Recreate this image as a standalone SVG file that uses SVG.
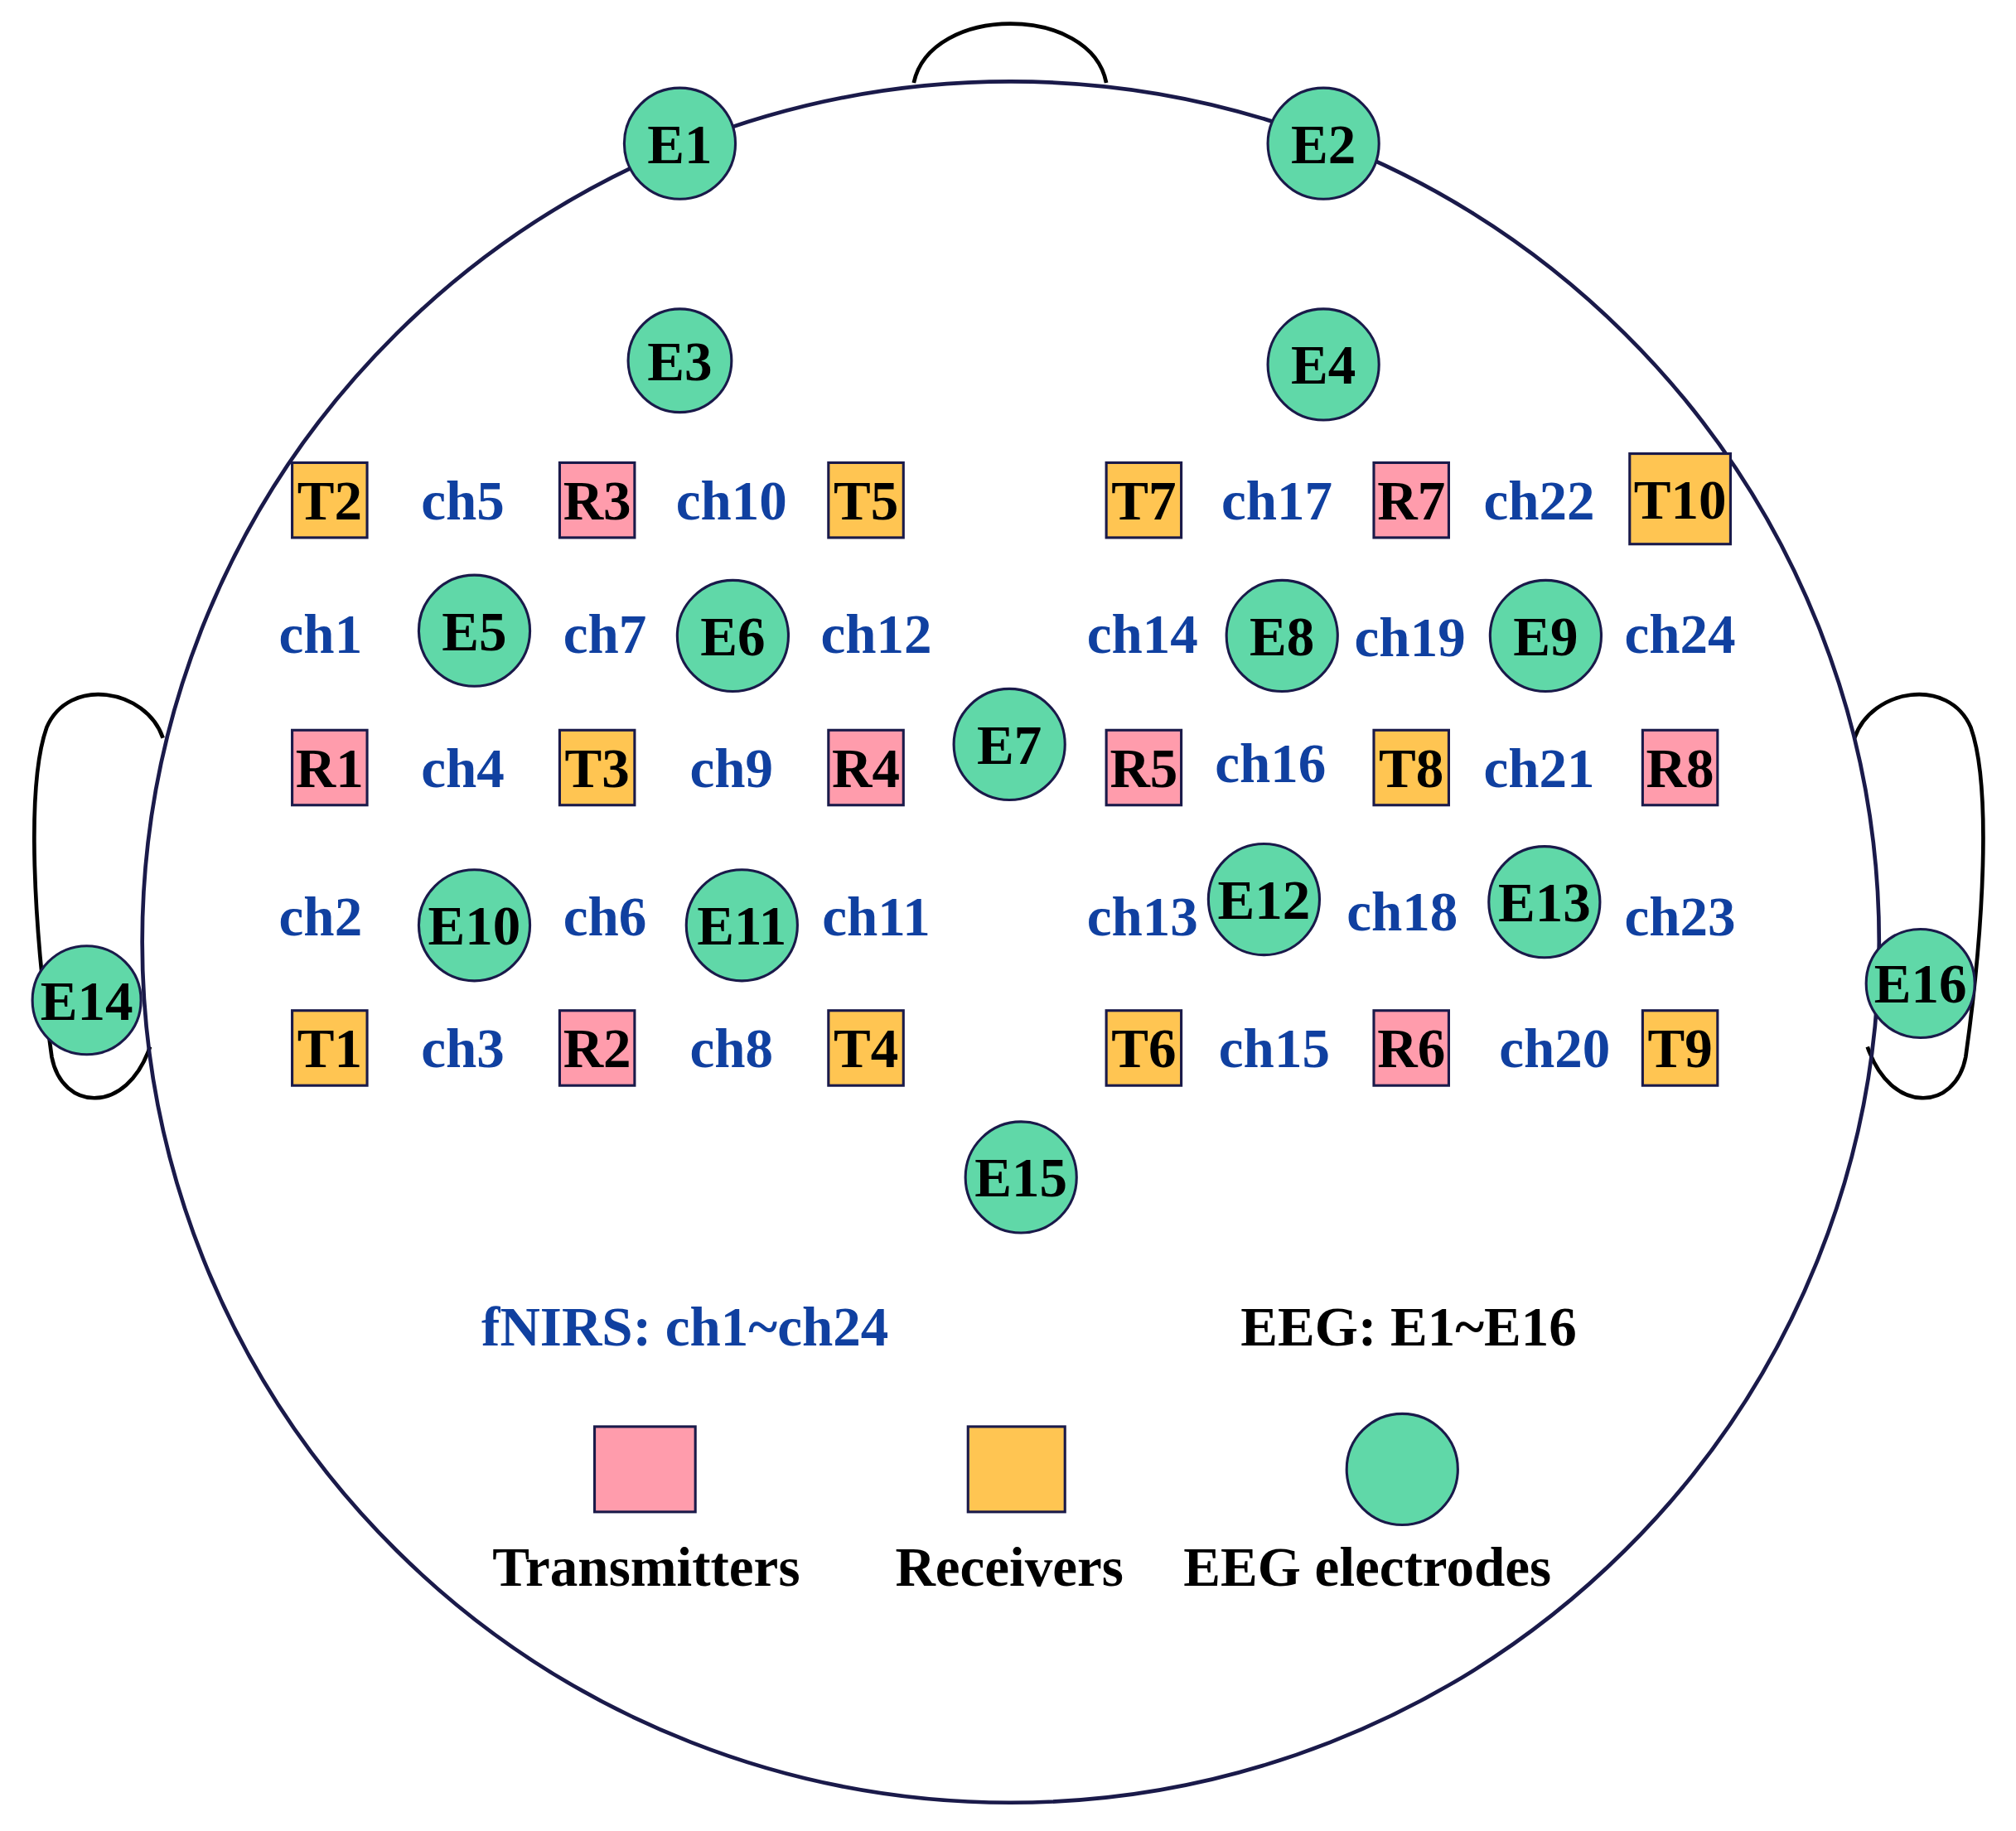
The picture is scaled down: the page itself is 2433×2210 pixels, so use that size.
<svg xmlns="http://www.w3.org/2000/svg" width="2433" height="2210" viewBox="0 0 2433 2210">
<style>
.l{fill:none;stroke:#000;stroke-width:3}
.e{fill:#60d8a8;stroke:#1a1a4a;stroke-width:2}
.t{fill:#ffc552;stroke:#1a1a4a;stroke-width:2}
.r{fill:#ff9cac;stroke:#1a1a4a;stroke-width:2}
text{font-family:"Liberation Serif",serif;font-weight:bold;font-size:43px;text-anchor:middle}
.c{fill:#1040a0}
</style>
<rect width="2433" height="2210" fill="#fff"/>
<g transform="translate(-3,-3) scale(1.5596)">
<g id="head">
<path class="l" d="M709,66 C722,5 846,5 858,66"/>
<path class="l" d="M128,573 C115,535 55,525 38,565 C22,610 28,720 42,820 C50,862 100,865 118,812"/>
<path class="l" d="M1437,573 C1450,535 1510,525 1527,565 C1543,610 1537,720 1523,820 C1515,862 1465,865 1447,812"/>
<ellipse cx="784" cy="731" rx="672" ry="666" fill="none" stroke="#1a1a4a" stroke-width="3"/>
</g>
<g id="electrodes">
<g id="E1"><circle class="e" cx="528" cy="113" r="43"/><text x="528" y="128">E1</text></g>
<g id="E2"><circle class="e" cx="1026" cy="113" r="43"/><text x="1026" y="128">E2</text></g>
<g id="E3"><circle class="e" cx="528" cy="281" r="40"/><text x="528" y="296">E3</text></g>
<g id="E4"><circle class="e" cx="1026" cy="284" r="43"/><text x="1026" y="299">E4</text></g>
<g id="E5"><circle class="e" cx="369" cy="490" r="43"/><text x="369" y="505">E5</text></g>
<g id="E6"><circle class="e" cx="569" cy="494" r="43"/><text x="569" y="509">E6</text></g>
<g id="E7"><circle class="e" cx="783" cy="578" r="43"/><text x="783" y="593">E7</text></g>
<g id="E8"><circle class="e" cx="994" cy="494" r="43"/><text x="994" y="509">E8</text></g>
<g id="E9"><circle class="e" cx="1198" cy="494" r="43"/><text x="1198" y="509">E9</text></g>
<g id="E10"><circle class="e" cx="369" cy="718" r="43"/><text x="369" y="733">E10</text></g>
<g id="E11"><circle class="e" cx="576" cy="718" r="43"/><text x="576" y="733">E11</text></g>
<g id="E12"><circle class="e" cx="980" cy="698" r="43"/><text x="980" y="713">E12</text></g>
<g id="E13"><circle class="e" cx="1197" cy="700" r="43"/><text x="1197" y="715">E13</text></g>
<g id="E14"><circle class="e" cx="69" cy="776" r="42"/><text x="69" y="791">E14</text></g>
<g id="E15"><circle class="e" cx="792" cy="913" r="43"/><text x="792" y="928">E15</text></g>
<g id="E16"><circle class="e" cx="1488" cy="763" r="42"/><text x="1488" y="778">E16</text></g>
</g>
<g id="optodes">
<g id="T2"><rect class="t" x="228" y="360" width="58" height="58"/><text x="257" y="404">T2</text></g>
<g id="R3"><rect class="r" x="435" y="360" width="58" height="58"/><text x="464" y="404">R3</text></g>
<g id="T5"><rect class="t" x="643" y="360" width="58" height="58"/><text x="672" y="404">T5</text></g>
<g id="T7"><rect class="t" x="858" y="360" width="58" height="58"/><text x="887" y="404">T7</text></g>
<g id="R7"><rect class="r" x="1065" y="360" width="58" height="58"/><text x="1094" y="404">R7</text></g>
<g id="T10"><rect class="t" x="1263" y="353" width="78" height="70"/><text x="1302" y="403">T10</text></g>
<g id="R1"><rect class="r" x="228" y="567" width="58" height="58"/><text x="257" y="611">R1</text></g>
<g id="T3"><rect class="t" x="435" y="567" width="58" height="58"/><text x="464" y="611">T3</text></g>
<g id="R4"><rect class="r" x="643" y="567" width="58" height="58"/><text x="672" y="611">R4</text></g>
<g id="R5"><rect class="r" x="858" y="567" width="58" height="58"/><text x="887" y="611">R5</text></g>
<g id="T8"><rect class="t" x="1065" y="567" width="58" height="58"/><text x="1094" y="611">T8</text></g>
<g id="R8"><rect class="r" x="1273" y="567" width="58" height="58"/><text x="1302" y="611">R8</text></g>
<g id="T1"><rect class="t" x="228" y="784" width="58" height="58"/><text x="257" y="828">T1</text></g>
<g id="R2"><rect class="r" x="435" y="784" width="58" height="58"/><text x="464" y="828">R2</text></g>
<g id="T4"><rect class="t" x="643" y="784" width="58" height="58"/><text x="672" y="828">T4</text></g>
<g id="T6"><rect class="t" x="858" y="784" width="58" height="58"/><text x="887" y="828">T6</text></g>
<g id="R6"><rect class="r" x="1065" y="784" width="58" height="58"/><text x="1094" y="828">R6</text></g>
<g id="T9"><rect class="t" x="1273" y="784" width="58" height="58"/><text x="1302" y="828">T9</text></g>
</g>
<g id="channels" class="c">
<text class="c" x="360" y="404">ch5</text><text class="c" x="568" y="404">ch10</text><text class="c" x="990" y="404">ch17</text><text class="c" x="1193" y="404">ch22</text>
<text class="c" x="250" y="507">ch1</text><text class="c" x="470" y="507">ch7</text><text class="c" x="680" y="507">ch12</text><text class="c" x="886" y="507">ch14</text><text class="c" x="1093" y="510">ch19</text><text class="c" x="1302" y="507">ch24</text>
<text class="c" x="360" y="611">ch4</text><text class="c" x="568" y="611">ch9</text><text class="c" x="985" y="607">ch16</text><text class="c" x="1193" y="611">ch21</text>
<text class="c" x="250" y="726">ch2</text><text class="c" x="470" y="726">ch6</text><text class="c" x="680" y="726">ch11</text><text class="c" x="886" y="726">ch13</text><text class="c" x="1087" y="722">ch18</text><text class="c" x="1302" y="726">ch23</text>
<text class="c" x="360" y="828">ch3</text><text class="c" x="568" y="828">ch8</text><text class="c" x="988" y="828">ch15</text><text class="c" x="1205" y="828">ch20</text>
</g>
<g id="legend">
<text class="c" x="532" y="1043">fNIRS: ch1~ch24</text>
<text x="1092" y="1043">EEG: E1~E16</text>
<rect class="r" x="462" y="1106" width="78" height="66"/>
<rect class="t" x="751" y="1106" width="75" height="66"/>
<circle class="e" cx="1087" cy="1139" r="43"/>
<text x="502" y="1229">Transmitters</text>
<text x="783" y="1229">Receivers</text>
<text x="1060" y="1229">EEG electrodes</text>
</g>
</g>
</svg>
